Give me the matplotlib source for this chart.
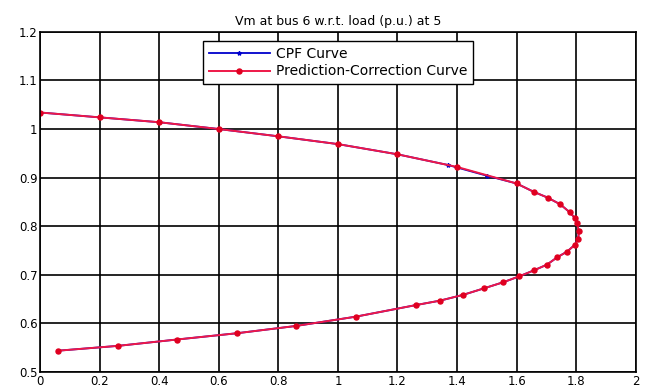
import numpy as np
import matplotlib
matplotlib.use("Agg")
import matplotlib.pyplot as plt

# load (p.u.) and voltage magnitude, upper branch -> nose -> lower branch
pc_load = [0.0, 0.2, 0.4, 0.6, 0.8, 1.0, 1.2, 1.4, 1.6,
           1.657, 1.704, 1.747, 1.778, 1.796, 1.803, 1.809, 1.807, 1.796,
           1.770, 1.736, 1.702, 1.657, 1.609, 1.556, 1.489, 1.421, 1.343,
           1.263, 1.060, 0.860, 0.662, 0.459, 0.262, 0.060]
pc_vm = [1.034, 1.024, 1.014, 1.000, 0.985, 0.969, 0.948, 0.922, 0.888,
         0.871, 0.859, 0.845, 0.829, 0.817, 0.807, 0.790, 0.774, 0.762,
         0.748, 0.736, 0.721, 0.709, 0.697, 0.685, 0.672, 0.659, 0.647,
         0.638, 0.614, 0.595, 0.580, 0.567, 0.554, 0.544]

cpf_load = [0.0, 0.2, 0.4, 0.6, 0.8, 1.0, 1.2, 1.37, 1.5, 1.6,
            1.657, 1.704, 1.747, 1.778, 1.796, 1.803, 1.809, 1.807, 1.796,
            1.770, 1.736, 1.702, 1.657, 1.609, 1.556, 1.489, 1.421, 1.343,
            1.263, 1.060, 0.860, 0.662, 0.459, 0.262, 0.060]
cpf_vm = [1.034, 1.024, 1.014, 1.000, 0.985, 0.969, 0.948, 0.926, 0.904, 0.888,
          0.871, 0.859, 0.845, 0.829, 0.817, 0.807, 0.790, 0.774, 0.762,
          0.748, 0.736, 0.721, 0.709, 0.697, 0.685, 0.672, 0.659, 0.647,
          0.638, 0.614, 0.595, 0.580, 0.567, 0.554, 0.544]

x_ticks = [0, 0.2, 0.4, 0.6, 0.8, 1, 1.2, 1.4, 1.6, 1.8, 2]
x_labels = ["0", "0.2", "0.4", "0.6", "0.8", "1", "1.2", "1.4", "1.6", "1.8", "2"]
y_ticks = [0.5, 0.6, 0.7, 0.8, 0.9, 1.0, 1.1, 1.2]
y_labels = ["0.5", "0.6", "0.7", "0.8", "0.9", "1", "1.1", "1.2"]

fig = plt.figure(figsize=(6.48, 3.88), dpi=100)
ax = fig.add_axes([0.062, 0.041, 0.919, 0.877])

ax.plot(cpf_load, cpf_vm, color="#0000cc", lw=1.3, marker="*", ms=3,
        label="CPF Curve")
ax.plot(pc_load, pc_vm, color="#ee1848", lw=1.4, marker="o", ms=3.6,
        mec="#e00020", mfc="#e00020", label="Prediction-Correction Curve")

ax.set_xlim(0, 2)
ax.set_ylim(0.5, 1.2)
ax.set_xticks(x_ticks)
ax.set_xticklabels(x_labels)
ax.set_yticks(y_ticks)
ax.set_yticklabels(y_labels)
ax.tick_params(labelsize=8.5, length=0, pad=2)
ax.grid(True, color="black", lw=1.2)
ax.set_axisbelow(True)
for s in ax.spines.values():
    s.set_color("black")
    s.set_linewidth(1.2)

ax.set_title("Vm at bus 6 w.r.t. load (p.u.) at 5", fontsize=9, pad=5)

leg = ax.legend(loc="upper center", bbox_to_anchor=(0.5, 0.98), fontsize=10,
                fancybox=False, framealpha=1, edgecolor="black",
                borderpad=0.4, labelspacing=0.25, handlelength=4.4,
                handletextpad=0.4, borderaxespad=0.2)
leg.get_frame().set_linewidth(1.0)

fig.savefig("out.png", dpi=100)
